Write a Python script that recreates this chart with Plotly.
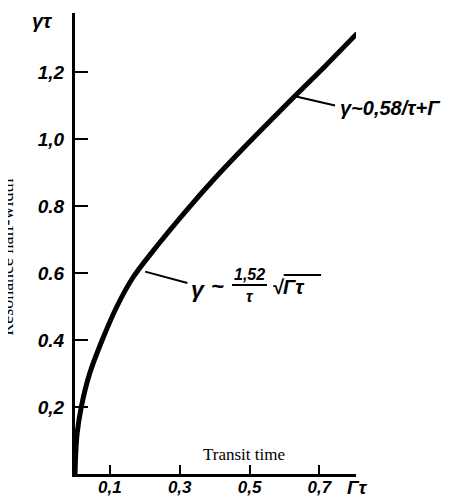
import plotly.graph_objects as go

# Curve: x = Γτ, y = γτ
gamma_tau_x = [0, 0.002, 0.006, 0.018, 0.042, 0.078, 0.12, 0.167, 0.236, 0.322, 0.40, 0.48, 0.544, 0.627, 0.72, 0.808]
gamma_tau_y = [0, 0.06, 0.12, 0.2, 0.3, 0.4, 0.5, 0.588, 0.682, 0.79, 0.882, 0.97, 1.038, 1.125, 1.221, 1.315]

x_tick_vals = [0.1, 0.3, 0.5, 0.7]
x_tick_text = ["0,1", "0,3", "0,5", "0,7"]
y_tick_vals = [0.2, 0.4, 0.6, 0.8, 1.0, 1.2]
y_tick_text = ["0,2", "0.4", "0.6", "0.8", "1,0", "1,2"]

BI = lambda s: "<b><i>" + s + "</i></b>"
TF = "Liberation Sans, Arial, sans-serif"
SF = "Liberation Serif, Times New Roman, serif"

fig = go.Figure()
fig.add_trace(go.Scatter(x=gamma_tau_x, y=gamma_tau_y, mode="lines",
                         line=dict(color="black", width=5, shape="spline", smoothing=0.8),
                         cliponaxis=False, showlegend=False, hoverinfo="skip"))

fig.update_layout(
    width=450, height=491,
    margin=dict(l=67, r=102, t=5, b=25),
    paper_bgcolor="white", plot_bgcolor="white",
    showlegend=False,
    xaxis=dict(range=[0, 0.805], showgrid=False, zeroline=False, showline=True, automargin=False,
               linecolor="black", linewidth=3, ticks="inside", ticklen=9, tickwidth=2,
               tickcolor="black", tickvals=x_tick_vals, ticktext=[BI(t) for t in x_tick_text],
               tickfont=dict(family=TF, size=17, color="black"), ticklabelstandoff=-4),
    yaxis=dict(range=[0, 1.376], showgrid=False, zeroline=False, showline=True, automargin=False,
               linecolor="black", linewidth=3, ticks="inside", ticklen=13, tickwidth=2,
               tickcolor="black", tickvals=y_tick_vals, ticktext=[BI(t) for t in y_tick_text],
               tickfont=dict(family=TF, size=19, color="black"), ticklabelstandoff=4),
)

data_anns = [
    dict(x=0.754, y=1.093, text=BI("γ~0,58/τ+Γ"), xanchor="left", font=dict(family=TF, size=20, color="black")),
    dict(x=0.328, y=0.552, text=BI("γ"), xanchor="left", font=dict(family=TF, size=23, color="black")),
    dict(x=0.407, y=0.560, text=BI("~"), xanchor="center", font=dict(family=TF, size=22, color="black")),
    dict(x=0.500, y=0.596, text=BI("1,52"), xanchor="center", font=dict(family=TF, size=16, color="black")),
    dict(x=0.500, y=0.529, text=BI("τ"), xanchor="center", font=dict(family=TF, size=16, color="black")),
    dict(x=0.559, y=0.558, text=BI("√Γτ"), xanchor="left", font=dict(family=TF, size=20, color="black")),
    dict(x=0.483, y=0.057, text="Transit time", xanchor="center", font=dict(family=SF, size=17, color="black")),
]
for a in data_anns:
    fig.add_annotation(xref="x", yref="y", showarrow=False, yanchor="middle", **a)

paper_anns = [
    dict(x=-0.117, y=0.982, text=BI("γτ"), xanchor="center", textangle=0, font=dict(family=TF, size=20, color="black")),
    dict(x=0.962, y=-0.030, text=BI("Γτ"), xanchor="left", textangle=0, font=dict(family=TF, size=19, color="black")),
    dict(x=-0.242, y=0.471, text="Resonance half-width", xanchor="center", textangle=-90,
         font=dict(family=SF, size=18, color="black")),
]
for a in paper_anns:
    fig.add_annotation(xref="paper", yref="paper", showarrow=False, yanchor="middle", **a)

lines = [
    ((0.627, 1.128), (0.745, 1.100)),
    ((0.201, 0.604), (0.322, 0.570)),
    ((0.450, 0.564), (0.550, 0.564)),
    ((0.598, 0.594), (0.705, 0.594)),
]
for (x0, y0), (x1, y1) in lines:
    fig.add_shape(type="line", xref="x", yref="y", x0=x0, y0=y0, x1=x1, y1=y1,
                  line=dict(color="black", width=2))

fig.write_html("out.html")
